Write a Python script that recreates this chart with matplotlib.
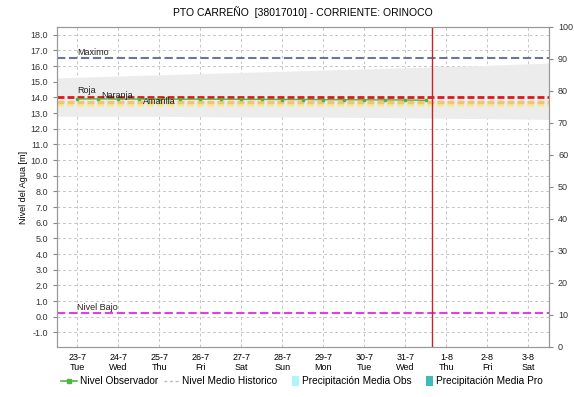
import matplotlib.pyplot as plt
from matplotlib.lines import Line2D
from matplotlib.patches import Patch, Rectangle
from matplotlib.legend_handler import HandlerPatch
import numpy as np

plt.rcParams['font.family'] = ['Liberation Sans', 'DejaVu Sans']
plt.rcParams['lines.scale_dashes'] = False

# dias del periodo (0 = 23-7)
fechas = ['23-7', '24-7', '25-7', '26-7', '27-7', '28-7', '29-7', '30-7', '31-7', '1-8', '2-8', '3-8']
dias_sem = ['Tue', 'Wed', 'Thu', 'Fri', 'Sat', 'Sun', 'Mon', 'Tue', 'Wed', 'Thu', 'Fri', 'Sat']

# niveles observados cada 12 horas
obs_t = [0, 0.5, 1, 1.5, 2, 2.5, 3, 3.5, 4, 4.5, 5, 5.5, 6, 6.5, 7, 7.5, 8, 8.5]
obs_nivel = [13.91, 13.91, 13.90, 13.90, 13.90, 13.89, 13.89, 13.89, 13.88,
             13.88, 13.87, 13.87, 13.86, 13.86, 13.85, 13.85, 13.84, 13.82]

# rango historico
hist_t = [-0.5, 2, 4, 6, 8, 10, 11.5]
hist_max = [15.25, 15.45, 15.6, 15.75, 15.9, 16.05, 16.2]
hist_min = [12.8, 12.8, 12.75, 12.75, 12.7, 12.65, 12.6]

# umbrales
maximo = 16.5
roja = 14.02
naranja = 13.72
amarilla = 13.5
nivel_bajo = 0.25
ahora = 8.65

guion = (0, (5, 2.2))

fig = plt.figure(figsize=(5.74, 3.97), dpi=100)
ax = fig.add_axes([0.0993, 0.126, 0.8571, 0.806])

ax.fill_between(hist_t, hist_min, hist_max, color='#ececec', lw=0, zorder=1)

ax.axhline(maximo, color='#6d7794', ls=(0, (6, 2.6)), lw=1.5, zorder=3)
ax.axhline(amarilla, color='#f7ea8a', ls=guion, lw=2.6, alpha=0.9, zorder=3)
ax.axhline(naranja, color='#f2c070', ls=guion, lw=2.4, alpha=0.9, zorder=3)
ax.axhline(roja, color='#e01818', ls=guion, lw=2, zorder=4)
ax.axhline(nivel_bajo, color='#e23ee6', ls=(0, (6, 2.6)), lw=1.5, zorder=3)

ax.plot(obs_t, obs_nivel, color='#4cb840', lw=1, marker='s', ms=1.8, zorder=5)

ax.axvline(ahora, color='#c02828', lw=1, zorder=6)

tk = dict(fontsize=6.5, color='#222222', zorder=7)
ax.text(0, maximo + 0.1, 'Maximo', va='bottom', **tk)
ax.text(0, 14.42, 'Roja', va='center', **tk)
ax.text(0.59, 14.12, 'Naranja', va='center', **tk)
ax.text(1.6, 13.74, 'Amarilla', va='center', **tk)
ax.text(0, 0.6, 'Nivel Bajo', va='center', **tk)

ax.set_xlim(-0.5, 11.5)
ax.set_ylim(-1.93, 18.5)
ax.set_xticks(np.arange(len(fechas)))
ax.set_xticklabels([f + '\n' + d for f, d in zip(fechas, dias_sem)], fontsize=6.5)
ax.set_yticks(np.arange(-1, 19, 1))
ax.set_yticklabels(['%.1f' % v for v in np.arange(-1, 19, 1)], fontsize=6.5)
ax.tick_params(axis='x', length=0, pad=4)
ax.tick_params(axis='y', length=3, color='#888888', labelcolor='#333333')
ax.grid(True, color='#c4c4c4', ls=(0, (2, 2)), lw=0.7)
ax.set_axisbelow(True)
ax.set_ylabel('Nivel del Agua [m]', fontsize=6.5, labelpad=2)
for s in ax.spines.values():
    s.set_color('#999999')

ax2 = ax.twinx()
ax2.set_ylim(0, 100)
ax2.set_yticks(np.arange(0, 101, 10))
ax2.tick_params(axis='y', length=3, color='#888888', labelsize=6.5, labelcolor='#333333')
for s in ax2.spines.values():
    s.set_color('#999999')

ax.set_title('PTO CARREÑO  [38017010] - CORRIENTE: ORINOCO', fontsize=7.5, pad=8)


def barra(legend, orig_handle, xdescent, ydescent, width, height, fontsize):
    # cuadro angosto para la precipitacion
    return Rectangle((width - 5 - xdescent, -ydescent - 1), 5, height + 2)


handles = [
    Line2D([], [], color='#4cb840', marker='s', ms=2.2, lw=1.2),
    Line2D([], [], color='#bbbbbb', ls=(0, (2, 2)), lw=1),
    Patch(facecolor='#aef4fa', edgecolor='none'),
    Patch(facecolor='#3cbcbc', edgecolor='none'),
]
labels = ['Nivel Observador', 'Nivel Medio Historico',
          'Precipitación Media Obs', 'Precipitación Media Pro']
fig.legend(handles, labels, loc='center', bbox_to_anchor=(0.526, 0.04), ncol=4,
           frameon=False, fontsize=7.3, handlelength=1.5, handletextpad=0.3,
           columnspacing=0.6,
           handler_map={Patch: HandlerPatch(patch_func=barra)})

fig.savefig('out.png', dpi=100)
